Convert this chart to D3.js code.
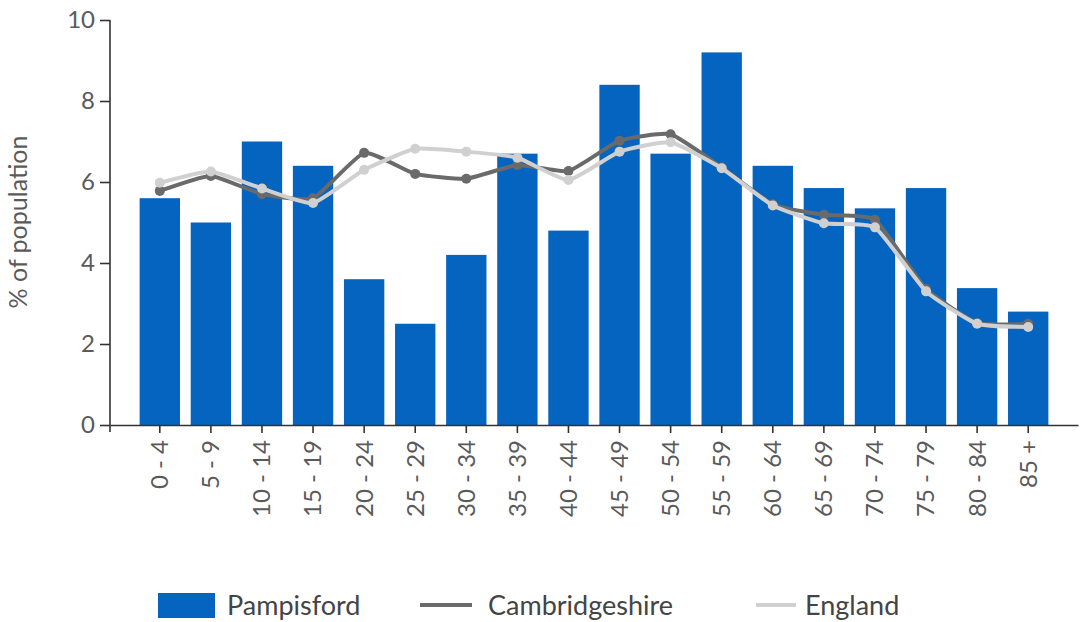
<!DOCTYPE html>
<html>
<head>
<meta charset="utf-8">
<script src="https://cdn.jsdelivr.net/npm/d3@7"></script>
<style>
  html, body { margin: 0; padding: 0; background: #fff; }
  svg { display: block; font-family: Lato, "Open Sans", sans-serif; }
</style>
</head>
<body>
<svg id="chart" width="1084" height="622"></svg>
<script>
// Age bands (5-year groups)
const ageBands = ["0 - 4", "5 - 9", "10 - 14", "15 - 19", "20 - 24", "25 - 29", "30 - 34", "35 - 39",
  "40 - 44", "45 - 49", "50 - 54", "55 - 59", "60 - 64", "65 - 69", "70 - 74", "75 - 79", "80 - 84", "85 +"];

// Share of population in each band (%)
const pampisford = [5.6, 5.0, 7.0, 6.4, 3.6, 2.5, 4.2, 6.7, 4.8, 8.4, 6.7, 9.2, 6.4, 5.85, 5.35, 5.85, 3.38, 2.8];
const cambridgeshire = [5.78, 6.15, 5.7, 5.6, 6.72, 6.2, 6.08, 6.42, 6.27, 7.02, 7.18, 6.36, 5.45, 5.19, 5.07, 3.36, 2.52, 2.5];
const england = [5.98, 6.26, 5.84, 5.48, 6.3, 6.82, 6.75, 6.6, 6.05, 6.75, 6.98, 6.34, 5.42, 4.98, 4.88, 3.3, 2.5, 2.42];

const yTicks = [0, 2, 4, 6, 8, 10];

const colors = { bar: "#0564c0", camb: "#6a6a6a", eng: "#d0d0d0", axis: "#333", text: "#5a5a5a" };

const svg = d3.select("#chart");

const x = d3.scaleBand()
  .domain(ageBands)
  .range([110, 1078])
  .paddingInner(0.21)
  .paddingOuter(0.58);

const y = d3.scaleLinear().domain([0, 10]).range([425, 20]);

// Bars
svg.append("g")
  .selectAll("rect")
  .data(pampisford)
  .join("rect")
  .attr("x", (d, i) => x(ageBands[i]))
  .attr("y", d => y(d))
  .attr("width", x.bandwidth())
  .attr("height", d => y(0) - y(d))
  .attr("fill", colors.bar);

// Y axis
const yAxis = svg.append("g")
  .attr("transform", "translate(110,0)")
  .call(d3.axisLeft(y).tickValues(yTicks).tickSize(10).tickSizeOuter(0).tickPadding(5));
yAxis.select(".domain").attr("d", `M0,${y(10)}V${y(0) + 7}`);

// X axis
const xAxis = svg.append("g")
  .attr("transform", `translate(0,${y(0)})`)
  .call(d3.axisBottom(x).tickSize(8).tickSizeOuter(0).tickPadding(8));
xAxis.selectAll(".tick text")
  .attr("transform", "rotate(-90)")
  .attr("text-anchor", "end")
  .attr("x", -15)
  .attr("y", 0)
  .attr("dy", "0.35em");

[yAxis, xAxis].forEach(g => {
  g.selectAll(".domain, .tick line").attr("stroke", colors.axis).attr("stroke-width", 1.6);
  g.selectAll(".tick text")
    .attr("fill", colors.text)
    .style("font-size", "24px")
    .style("font-family", "Lato, sans-serif");
});

// Y axis title
svg.append("text")
  .attr("transform", "translate(27,222) rotate(-90)")
  .attr("text-anchor", "middle")
  .attr("fill", colors.text)
  .style("font-size", "25px")
  .text("% of population");

// Comparison lines (lightly smoothed)
const line = d3.line()
  .x((d, i) => x(ageBands[i]) + x.bandwidth() / 2)
  .y(d => y(d))
  .curve(d3.curveCardinal.tension(0.55));

[[cambridgeshire, colors.camb], [england, colors.eng]].forEach(([vals, col]) => {
  const g = svg.append("g");
  g.append("path")
    .datum(vals)
    .attr("d", line)
    .attr("fill", "none")
    .attr("stroke", col)
    .attr("stroke-width", 4);
  g.selectAll("circle")
    .data(vals)
    .join("circle")
    .attr("cx", (d, i) => x(ageBands[i]) + x.bandwidth() / 2)
    .attr("cy", d => y(d))
    .attr("r", 5)
    .attr("fill", col);
});

// Legend
const legend = svg.append("g").style("font-size", "27px").attr("fill", "#444");
legend.append("rect").attr("x", 158).attr("y", 593).attr("width", 57).attr("height", 25).attr("fill", colors.bar);
legend.append("text").attr("x", 227).attr("y", 615).text("Pampisford");
legend.append("line").attr("x1", 420).attr("x2", 472).attr("y1", 605).attr("y2", 605)
  .attr("stroke", colors.camb).attr("stroke-width", 4);
legend.append("text").attr("x", 488).attr("y", 615).text("Cambridgeshire");
legend.append("line").attr("x1", 756).attr("x2", 796).attr("y1", 605).attr("y2", 605)
  .attr("stroke", colors.eng).attr("stroke-width", 4);
legend.append("text").attr("x", 805).attr("y", 615).text("England");
</script>
</body>
</html>
